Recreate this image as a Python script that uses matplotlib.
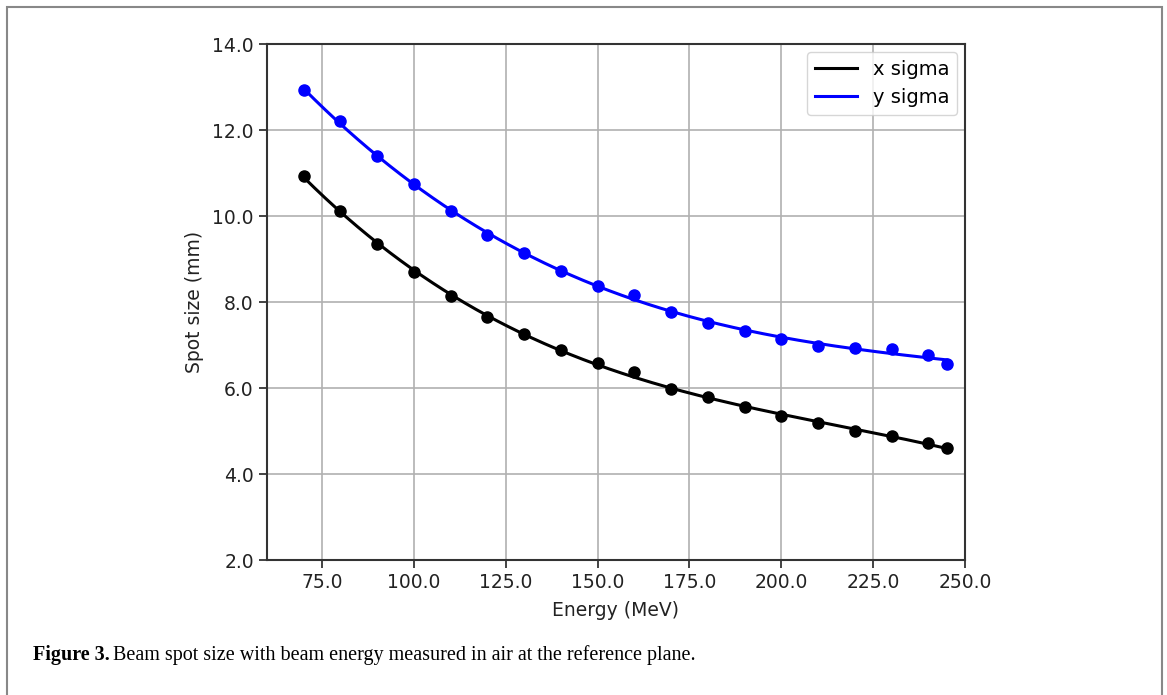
import numpy as np
import matplotlib
matplotlib.use("Agg")
import matplotlib.pyplot as plt
from matplotlib.patches import Rectangle

# beam energies (MeV) and measured spot sigmas (mm)
energy = [70, 80, 90, 100, 110, 120, 130, 140, 150, 160, 170, 180, 190, 200,
          210, 220, 230, 240, 245]
x_sigma = [10.93, 10.12, 9.35, 8.70, 8.13, 7.65, 7.25, 6.88, 6.58, 6.38, 5.98,
           5.78, 5.55, 5.35, 5.18, 5.01, 4.88, 4.73, 4.60]
y_sigma = [12.92, 12.20, 11.40, 10.75, 10.12, 9.55, 9.15, 8.72, 8.37, 8.17,
           7.77, 7.52, 7.32, 7.15, 6.98, 6.93, 6.90, 6.77, 6.55]

xticks = [75, 100, 125, 150, 175, 200, 225, 250]
yticks = [2, 4, 6, 8, 10, 12, 14]

fig = plt.figure(figsize=(11.67, 6.95), dpi=100)
ax = fig.add_axes([267 / 1167, 1 - 560 / 695, (965 - 267) / 1167, (560 - 44) / 695])

e = np.array(energy, dtype=float)
efit = np.linspace(e.min(), e.max(), 300)
# smooth fit lines through the measured points
px = np.polyfit(e, x_sigma, 3)
py = np.polyfit(e, y_sigma, 3)

ax.plot(efit, np.polyval(px, efit), color="black", lw=2.2, label="x sigma")
ax.plot(efit, np.polyval(py, efit), color="blue", lw=2.2, label="y sigma")
ax.plot(energy, x_sigma, "o", color="black", ms=8)
ax.plot(energy, y_sigma, "o", color="blue", ms=8)

ax.set_xlim(60, 250)
ax.set_ylim(2, 14)
ax.set_xticks(xticks)
ax.set_yticks(yticks)
ax.set_xticklabels([f"{t:.1f}" for t in xticks])
ax.set_yticklabels([f"{t:.1f}" for t in yticks])
ax.tick_params(labelsize=13.5, colors="#222222", length=6, width=1.2)
ax.grid(True, color="#b0b0b0", lw=1.2)
for s in ax.spines.values():
    s.set_linewidth(1.5)
    s.set_color("#333333")

ax.set_xlabel("Energy (MeV)", fontsize=13.5, color="#222222", labelpad=6)
ax.set_ylabel("Spot size (mm)", fontsize=13.5, color="#222222", labelpad=6)
ax.legend(loc="upper right", fontsize=14, handlelength=2.2, framealpha=0.8,
          borderaxespad=0.4)

# outer figure frame
fig.patches.append(Rectangle((7 / 1167, -0.05), (1162 - 7) / 1167, 1 - 7 / 695 + 0.05,
                             transform=fig.transFigure, fill=False,
                             edgecolor="#888888", lw=1.5))

fig.text(33 / 1167, 1 - 655 / 695, "Figure 3.", fontsize=14.5, fontweight="bold",
         family="Liberation Serif", va="center", ha="left")
fig.text(113 / 1167, 1 - 655 / 695,
         "Beam spot size with beam energy measured in air at the reference plane.",
         fontsize=14.5, family="Liberation Serif", va="center", ha="left")

fig.savefig("out.png", dpi=100)
